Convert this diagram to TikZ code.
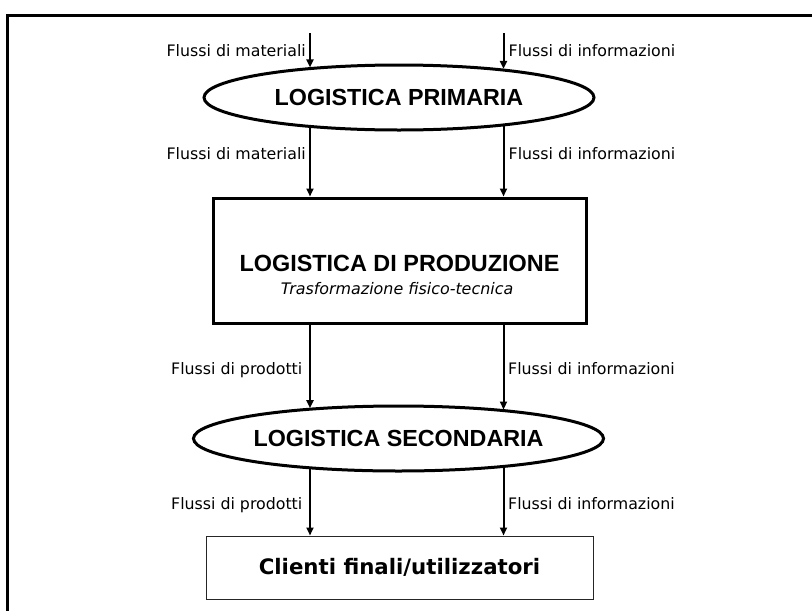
\documentclass[tikz,border=0pt]{standalone}
\usepackage{fontspec}
\setmainfont{DejaVu Sans}
\newfontfamily\arialfont{Liberation Sans}
\usetikzlibrary{shapes.geometric,arrows.meta}
\begin{document}
\begin{tikzpicture}[x=1pt,y=1pt,
  frameline/.style={line width=2.5pt},
  oval/.style={ellipse, draw, line width=3pt, minimum width=390pt, minimum height=65pt, inner sep=0pt,
    font=\arialfont\bfseries\fontsize{23.3}{28}\selectfont},
  bigbox/.style={draw, line width=3pt, minimum width=373pt, minimum height=125pt, inner sep=0pt},
  bigtitle/.style={inner sep=0pt, anchor=base, font=\arialfont\bfseries\fontsize{23.4}{28}\selectfont},
  subtitle/.style={inner sep=0pt, anchor=base, font=\itshape\fontsize{15.9}{19}\selectfont},
  endbox/.style={draw=black!85, line width=1pt, minimum width=387pt, minimum height=63pt, inner sep=0pt,
    font=\bfseries\fontsize{21.3}{26}\selectfont},
  flow/.style={line width=2pt, -{Triangle[length=8pt,width=7pt]}},
  lbll/.style={inner sep=0pt, anchor=base east, font=\fontsize{15.8}{19}\selectfont},
  lblr/.style={inner sep=0pt, anchor=base west, font=\fontsize{15.8}{19}\selectfont},
]
\useasboundingbox (0,0) rectangle (812,-611);
% outer frame (cut by the page edges)
\draw[frameline] (813,-15.5) -- (7.5,-15.5) -- (7.5,-612);

% columns of the flows
\coordinate (cl) at (310,0);
\coordinate (cr) at (503.5,0);
\coordinate (s1) at (310,-33);
\coordinate (s2) at (503.5,-33);

% main nodes
\node[oval] (e1) at (399,-97.5) {LOGISTICA PRIMARIA};
\node[bigbox] (b2) at (399.5,-260.5) {};
\node[bigtitle] (t2a) at (399.5,-271) {LOGISTICA DI PRODUZIONE};
\node[subtitle] (t2b) at (397,-294) {Trasformazione fisico-tecnica};
\node[oval] (e2) at (398.5,-438.5) {LOGISTICA SECONDARIA};
\node[endbox] (b3) at (399.5,-567.5) {Clienti finali/utilizzatori};

% flows
\draw[flow] (s1) -- (cl |- e1.162);
\draw[flow] (s2) -- (cr |- e1.15);
\draw[flow] (cl |- e1.198) -- (cl |- b2.north);
\draw[flow] (cr |- e1.345) -- (cr |- b2.north);
\draw[flow] (cl |- b2.south) -- (cl |- e2.162);
\draw[flow] (cr |- b2.south) -- (cr |- e2.15);
\draw[flow] (cl |- e2.198) -- (cl |- b3.north);
\draw[flow] (cr |- e2.345) -- (cr |- b3.north);

% labels
\node[lbll] (l1) at (306,-56.7) {Flussi di materiali};
\node[lblr] (r1) at (508.5,-56.7) {Flussi di informazioni};
\node[lbll] (l2) at (306,-159) {Flussi di materiali};
\node[lblr] (r2) at (508.5,-159) {Flussi di informazioni};
\node[lbll] (l3) at (302.5,-374.3) {Flussi di prodotti};
\node[lblr] (r3) at (508,-374.3) {Flussi di informazioni};
\node[lbll] (l4) at (302.5,-509.3) {Flussi di prodotti};
\node[lblr] (r4) at (508,-509.3) {Flussi di informazioni};
\end{tikzpicture}
\end{document}
